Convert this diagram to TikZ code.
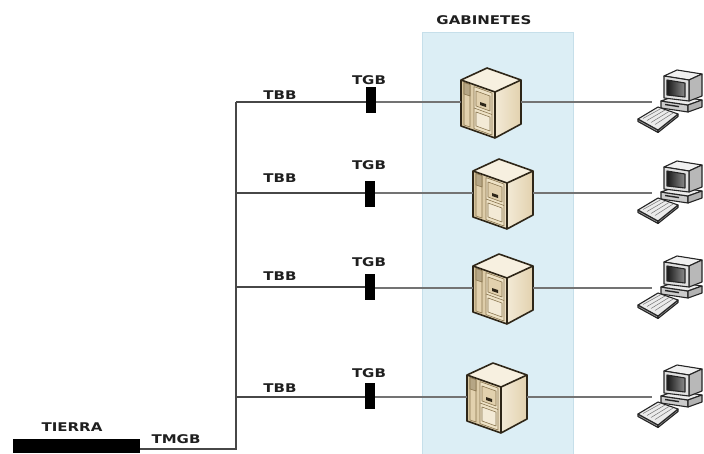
\documentclass[tikz,border=0pt]{standalone}
\usepackage{fontspec}
\newfontfamily\lblfont{DejaVu Sans}[FakeStretch=1.25, BoldFeatures={FakeStretch=1.25}]
\definecolor{cabfill}{HTML}{DCEEF5}
\definecolor{cabline}{HTML}{C6DFEA}
\definecolor{srvline}{HTML}{2E2618}
\definecolor{srvtop}{HTML}{F7F0E0}
\definecolor{srvdark}{HTML}{D6C39C}
\definecolor{srvmid}{HTML}{EEE2C6}
\definecolor{srvlight}{HTML}{F3EAD6}
\definecolor{srvshade}{HTML}{E2D1AE}
\definecolor{srvdetail}{HTML}{8A7650}
\begin{document}
\begin{tikzpicture}[x=1pt,y=-1pt,
  lbl/.style={font=\lblfont\bfseries\fontsize{12}{13}\selectfont, text=black!88, inner sep=0pt},
  tbb/.style={draw=black!72, line width=1.4pt},
  feed/.style={draw=black!55, line width=2.4pt},
  tgbbar/.style={fill=black, draw=none, minimum width=10pt, minimum height=26pt, inner sep=0pt},
  slot/.style={draw=none, minimum width=60pt, minimum height=72pt, inner sep=0pt},
  pcslot/.style={draw=none, minimum width=52pt, minimum height=10pt, inner sep=0pt, anchor=west},
  outl/.style={draw=srvline, line width=1.6pt, line join=round},
  detl/.style={draw=srvdetail, line width=0.6pt, line join=round},
  pcl/.style={draw=black!85, line width=1.1pt, line join=round},
  server/.pic={
    % top face
    \fill[srvtop] (-30,-22) -- (-4,-34) -- (30,-22) -- (4,-10) -- cycle;
    % front face
    \shade[left color=srvdark, right color=srvmid] (-30,-22) -- (4,-10) -- (4,36) -- (-30,24) -- cycle;
    % side face
    \shade[left color=srvlight, right color=srvshade] (4,-10) -- (30,-22) -- (30,22) -- (4,36) -- cycle;
    % narrow strip with its top panel
    \filldraw[detl, fill=srvshade] (-27,-19.5) -- (-21,-17.4) -- (-21,25) -- (-27,23) -- cycle;
    \filldraw[detl, fill=srvdark!85!black] (-27,-19.5) -- (-21,-17.4) -- (-21,-6) -- (-27,-8) -- cycle;
    % door
    \filldraw[detl, fill=srvmid] (-17,-15.4) -- (1,-9) -- (1,33) -- (-17,26.6) -- cycle;
    \draw[detl] (-17,6) -- (1,12.5);
    \filldraw[detl, fill=srvshade] (-15,-11) -- (-1,-6) -- (-1,9) -- (-15,4) -- cycle;
    \fill[srvline] (-11,0) -- (-5,2) -- (-5,5) -- (-11,3) -- cycle;
    \filldraw[detl, fill=srvlight] (-15,10) -- (-1,15) -- (-1,29) -- (-15,24) -- cycle;
    % outline
    \draw[outl] (-30,-22) -- (-4,-34) -- (30,-22) -- (30,22) -- (4,36) -- (-30,24) -- cycle;
    \draw[outl] (-30,-22) -- (4,-10) -- (30,-22);
    \draw[outl] (4,-10) -- (4,36);
  },
  pc/.pic={
    % desktop case
    \filldraw[pcl, fill=black!20] (9,-1) -- (36,3) -- (36,10) -- (9,6) -- cycle;
    \filldraw[pcl, fill=black!8] (9,-1) -- (23,-6) -- (50,-2) -- (36,3) -- cycle;
    \filldraw[pcl, fill=black!30] (36,3) -- (50,-2) -- (50,5) -- (36,10) -- cycle;
    \draw[black!85, line width=1.4pt] (13,2.5) -- (27,4.6);
    % monitor
    \filldraw[pcl, fill=black!6] (12,-26) -- (25,-32) -- (50,-28) -- (37,-22) -- cycle;
    \filldraw[pcl, fill=black!28] (37,-22) -- (50,-28) -- (50,-6) -- (37,-1) -- cycle;
    \filldraw[pcl, fill=black!12] (12,-26) -- (37,-22) -- (37,-1) -- (12,-4) -- cycle;
    \shade[left color=black!90, right color=black!45] (15,-22) -- (33,-19) -- (33,-5) -- (15,-7) -- cycle;
    \draw[pcl] (15,-22) -- (33,-19) -- (33,-5) -- (15,-7) -- cycle;
    % keyboard
    \filldraw[pcl, fill=black!40] (-14,17) -- (6,28) -- (6,30.5) -- (-14,19.5) -- cycle;
    \filldraw[pcl, fill=black!40] (6,28) -- (26,12) -- (26,14.5) -- (6,30.5) -- cycle;
    \filldraw[pcl, fill=black!8] (-14,17) -- (6,5) -- (26,12) -- (6,28) -- cycle;
    \draw[black!55, line width=0.5pt] (-9,16.5) -- (9,6.5) (-5,18.5) -- (13,8) (-1,20.5) -- (17,9.5) (3,22.5) -- (21,11);
  }]
\useasboundingbox (0,0) rectangle (704,453);
\fill[white] (0,0) rectangle (704,453);

% cabinet area
\filldraw[fill=cabfill, draw=cabline, line width=0.8pt] (422,32) rectangle (573,454);
\node[lbl] (gab) at (484,20) {GABINETES};

% main ground bar
\node[fill=black, minimum width=127pt, minimum height=14pt, inner sep=0pt] (tierra) at (76.5,446) {};
\node[lbl] (tierralbl) at (72,427) {TIERRA};
\node[lbl] (tmgb) at (176,439) {TMGB};

% trunk junctions
\coordinate (j1) at (236,102);
\coordinate (j2) at (236,193);
\coordinate (j3) at (236,287);
\coordinate (j4) at (236,397);
\coordinate (jb) at (236,449);

% grounding bars per row
\node[tgbbar] (tgb1) at (371,100) {};
\node[tgbbar] (tgb2) at (370,194) {};
\node[tgbbar] (tgb3) at (370,287) {};
\node[tgbbar] (tgb4) at (370,396) {};

% cabinets
\node[slot] (srv1) at (491,102) {};
\node[slot] (srv2) at (503,193) {};
\node[slot] (srv3) at (503,288) {};
\node[slot] (srv4) at (497,397) {};
\foreach \s in {srv1,srv2,srv3,srv4} \pic at (\s) {server};

% workstations
\node[pcslot] (pc1) at (652,102) {};
\node[pcslot] (pc2) at (652,193) {};
\node[pcslot] (pc3) at (652,288) {};
\node[pcslot] (pc4) at (652,397) {};

% labels
\node[lbl] (tbb1) at (280,95) {TBB};
\node[lbl] (tbb2) at (280,178) {TBB};
\node[lbl] (tbb3) at (280,276) {TBB};
\node[lbl] (tbb4) at (280,388) {TBB};
\node[lbl] (tgbl1) at (369,80) {TGB};
\node[lbl] (tgbl2) at (369,165) {TGB};
\node[lbl] (tgbl3) at (369,262) {TGB};
\node[lbl] (tgbl4) at (369,373) {TGB};

% connectors
\draw[tbb] (jb -| tierra.east) -- (jb) -- (j1);
\foreach \i in {1,2,3,4} {
  \draw[tbb] (j\i) -- (j\i -| tgb\i.west);
  \draw[feed] (tgb\i.east |- srv\i.west) -- (srv\i.west);
  \draw[feed] (srv\i.east) -- (pc\i.west);
}
\foreach \p in {pc1,pc2,pc3,pc4} \pic at (\p.west) {pc};
\end{tikzpicture}
\end{document}
